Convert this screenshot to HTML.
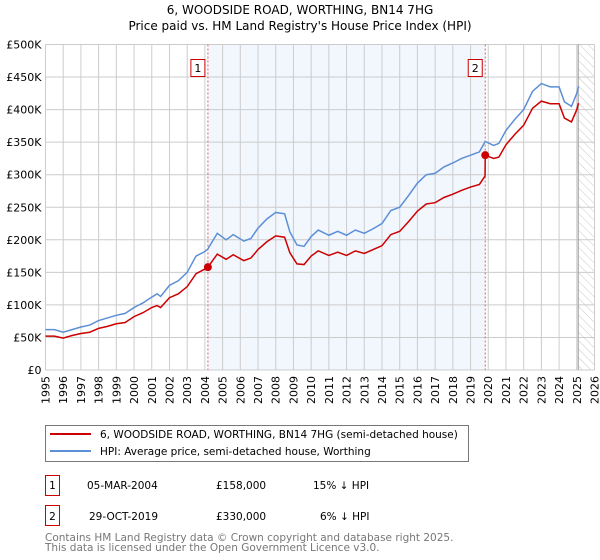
<!DOCTYPE html>
<html><head><meta charset="utf-8"><style>
body{margin:0;background:#fff;font-family:"DejaVu Sans","Liberation Sans",sans-serif;}
svg{display:block}
</style></head><body>
<svg id="c" width="600" height="560" xmlns="http://www.w3.org/2000/svg">
<text x="300" y="14" text-anchor="middle" font-size="12">6, WOODSIDE ROAD, WORTHING, BN14 7HG</text>
<text x="300" y="30" text-anchor="middle" font-size="12">Price paid vs. HM Land Registry's House Price Index (HPI)</text>
<defs><pattern id="hatch" width="6" height="6" patternUnits="userSpaceOnUse" patternTransform="rotate(-45)"><line x1="0" y1="0" x2="0" y2="6" stroke="#bbb" stroke-width="0.8"/></pattern></defs>
<g id="plot"></g>
<g>
<rect x="45.5" y="425.5" width="423" height="36" fill="#fff" stroke="#777"/>
<line x1="50" y1="434" x2="91" y2="434" stroke="#cc0000" stroke-width="2"/>
<text x="100" y="438" font-size="10.5">6, WOODSIDE ROAD, WORTHING, BN14 7HG (semi-detached house)</text>
<line x1="50" y1="451" x2="91" y2="451" stroke="#5b8fd6" stroke-width="2"/>
<text x="100" y="455" font-size="10.5">HPI: Average price, semi-detached house, Worthing</text>
</g>
<g font-size="10.5">
<rect x="45.5" y="475.5" width="14" height="20" fill="#fff" stroke="#cc0000"/><text x="52.5" y="489" text-anchor="middle">1</text>
<text x="87" y="489">05-MAR-2004</text><text x="216" y="489">£158,000</text><text x="313" y="489">15% ↓ HPI</text>
<rect x="45.5" y="505.5" width="14" height="20" fill="#fff" stroke="#cc0000"/><text x="52.5" y="520" text-anchor="middle">2</text>
<text x="89" y="520">29-OCT-2019</text><text x="216" y="520">£330,000</text><text x="320" y="520">6% ↓ HPI</text>
</g>
<text x="45" y="541" font-size="10.5" fill="#777">Contains HM Land Registry data © Crown copyright and database right 2025.</text>
<text x="45" y="551" font-size="10.5" fill="#777">This data is licensed under the Open Government Licence v3.0.</text>
</svg>
<script>
const yTicks=[0,50000,100000,150000,200000,250000,300000,350000,400000,450000,500000];
const yTickLabels=["£0","£50K","£100K","£150K","£200K","£250K","£300K","£350K","£400K","£450K","£500K"];
const years=[1995,1996,1997,1998,1999,2000,2001,2002,2003,2004,2005,2006,2007,2008,2009,2010,2011,2012,2013,2014,2015,2016,2017,2018,2019,2020,2021,2022,2023,2024,2025,2026];
const hpiT=[1995,1995.5,1996,1996.5,1997,1997.5,1998,1998.5,1999,1999.5,2000,2000.5,2001,2001.3,2001.5,2002,2002.5,2003,2003.5,2004,2004.17,2004.7,2005.2,2005.6,2006.2,2006.6,2007,2007.5,2008,2008.5,2008.8,2009.2,2009.6,2010,2010.4,2011,2011.5,2012,2012.5,2013,2013.5,2014,2014.5,2015,2015.5,2016,2016.5,2017,2017.5,2018,2018.5,2019,2019.5,2019.83,2020.3,2020.6,2021,2021.5,2022,2022.5,2023,2023.5,2024,2024.3,2024.7,2025,2025.1];
const hpiV=[62000,62000,58000,62000,66000,69000,76000,80000,84000,87000,96000,103000,112000,117000,113000,130000,137000,150000,175000,182000,186000,210000,200000,208000,198000,202000,218000,232000,242000,240000,212000,192000,190000,205000,215000,207000,213000,207000,215000,210000,217000,225000,245000,250000,268000,287000,300000,302000,312000,318000,325000,330000,335000,351000,345000,348000,368000,385000,400000,428000,440000,435000,435000,412000,405000,425000,436000];
const redT=[1995,1995.5,1996,1996.5,1997,1997.5,1998,1998.5,1999,1999.5,2000,2000.5,2001,2001.3,2001.5,2002,2002.5,2003,2003.5,2004,2004.17,2004.7,2005.2,2005.6,2006.2,2006.6,2007,2007.5,2008,2008.5,2008.8,2009.2,2009.6,2010,2010.4,2011,2011.5,2012,2012.5,2013,2013.5,2014,2014.5,2015,2015.5,2016,2016.5,2017,2017.5,2018,2018.5,2019,2019.5,2019.82,2019.83,2020.3,2020.6,2021,2021.5,2022,2022.5,2023,2023.5,2024,2024.3,2024.7,2025,2025.1];
const redV=[52000,52000,49000,53000,56000,58000,64000,67000,71000,73000,82000,88000,96000,99000,96000,111000,117000,128000,148000,155000,158000,178000,170000,177000,168000,172000,185000,197000,206000,204000,180000,163000,162000,175000,183000,176000,181000,176000,183000,179000,185000,191000,208000,213000,228000,244000,255000,257000,265000,270000,276000,281000,285000,298000,330000,325000,327000,346000,362000,376000,402000,413000,409000,409000,387000,381000,400000,410000];
const sales=[{t:2004.17,v:158000,n:"1"},{t:2019.83,v:330000,n:"2"}];
const L=45.5,R=594.5,T=44.5,B=370;
const x=t=>L+(t-1995)/(2026-1995)*(R-L);
const y=v=>B-v/500000*(B-T);
const g=document.getElementById('plot');const NS="http://www.w3.org/2000/svg";
function mk(tag,attrs,parent){const e=document.createElementNS(NS,tag);for(const k in attrs)e.setAttribute(k,attrs[k]);(parent||g).appendChild(e);return e;}
let r=mk('rect',{x:x(sales[0].t),y:T,width:x(sales[1].t)-x(sales[0].t),height:B-T,fill:'#f2f6fd'});


r=mk('rect',{x:x(2025.08),y:T,width:R-x(2025.08),height:B-T,fill:'url(#hatch)'});


years.forEach(yr=>{const e=mk('line',{x1:x(yr),y1:T,x2:x(yr),y2:B,stroke:'#ccc'});


const tx=mk('text',{x:0,y:0,'font-size':11,'text-anchor':'end',transform:`translate(${x(yr)+4},${B+6}) rotate(-90)`});tx.textContent=yr;

});
yTicks.forEach((v,i)=>{const e=mk('line',{x1:L,y1:y(v),x2:R,y2:y(v),stroke:'#ccc'});


const tx=mk('text',{x:L-4,y:y(v)+4,'font-size':11,'text-anchor':'end'});tx.textContent=yTickLabels[i];

});
let ln=mk('line',{x1:x(2025.08),y1:T,x2:x(2025.08),y2:B,stroke:'#999'});


sales.forEach(s=>{const l=mk('line',{x1:x(s.t),y1:T,x2:x(s.t),y2:B,stroke:'#e06060','stroke-dasharray':'2,2'});

});
let p=mk('polyline',{points:hpiT.map((t,i)=>x(t)+','+y(hpiV[i])).join(' '),fill:'none',stroke:'#5b8fd6','stroke-width':1.5});


p=mk('polyline',{points:redT.map((t,i)=>x(t)+','+y(redV[i])).join(' '),fill:'none',stroke:'#cc0000','stroke-width':1.5});


sales.forEach(s=>{const c=mk('circle',{cx:x(s.t),cy:y(s.v),r:4,fill:'#cc0000'});


const b=mk('rect',{x:x(s.t)-17,y:59.5,width:14,height:17,fill:'#fff',stroke:'#cc0000'});


const tx=mk('text',{x:x(s.t)-10,y:72,'font-size':11,'text-anchor':'middle'});tx.textContent=s.n;

});
</script>
</body></html>
